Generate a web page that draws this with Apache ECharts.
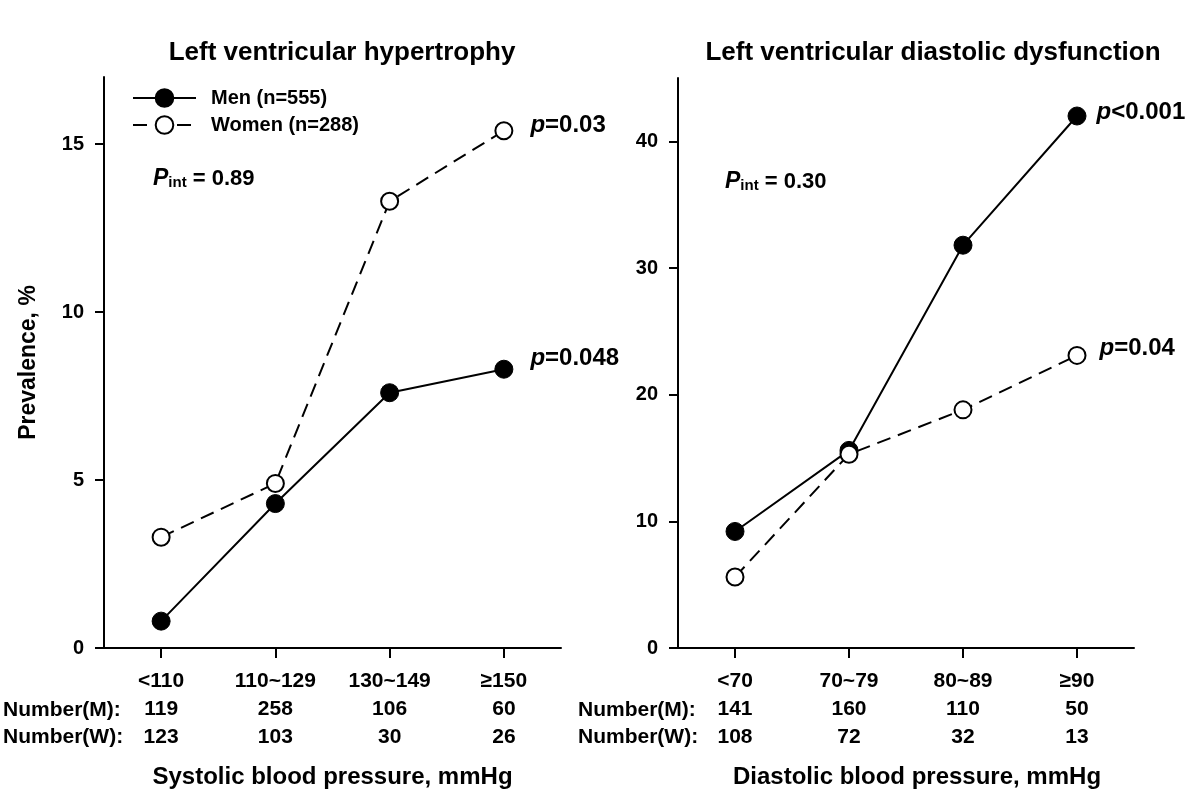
<!DOCTYPE html>
<html><head><meta charset="utf-8">
<script src="https://cdn.jsdelivr.net/npm/echarts@6/dist/echarts.min.js"></script>
<style>html,body{margin:0;padding:0;background:#fff}#c{width:1200px;height:796px}</style>
</head><body><div id="c"></div>
<script>
// ---------- data ----------
const sbpCategories = ['<110', '110~129', '130~149', '≥150'];
const dbpCategories = ['<70', '70~79', '80~89', '≥90'];
const lvhMen = [0.8, 4.3, 7.6, 8.3];
const lvhWomen = [3.3, 4.9, 13.3, 15.4];
const lvddMen = [9.2, 15.6, 31.8, 42.0];
const lvddWomen = [5.6, 15.3, 18.8, 23.1];
const sbpNumberMen = [119, 258, 106, 60];
const sbpNumberWomen = [123, 103, 30, 26];
const dbpNumberMen = [141, 160, 110, 50];
const dbpNumberWomen = [108, 72, 32, 13];
const lvhYTicks = [0, 5, 10, 15];
const lvddYTicks = [0, 10, 20, 30, 40];
const seriesNames = ['Men (n=555)', 'Women (n=288)'];
const lvhPValues = ['=0.048', '=0.03'];     // men, women
const lvddPValues = ['<0.001', '=0.04'];    // men, women
const pInteraction = ['0.89', '0.30'];

// ---------- styling ----------
const FONT = '"Liberation Sans", Arial, Helvetica, sans-serif';
const BLACK = '#000';

function pLabel(text, distance, dy) {
  return {
    show: true, position: 'right', distance: distance, offset: [0, dy],
    formatter: '{i|p}{n|' + text + '}',
    rich: {
      i: {fontFamily: FONT, fontSize: 24, fontWeight: 'bold', fontStyle: 'italic', color: BLACK},
      n: {fontFamily: FONT, fontSize: 24, fontWeight: 'bold', color: BLACK}
    }
  };
}
function withEndLabel(values, label) {
  return values.map((v, i) => i === values.length - 1 ? {value: v, label: label} : v);
}
const menStyle = {
  type: 'line', symbol: 'circle', symbolSize: 18, color: BLACK,
  lineStyle: {color: BLACK, width: 2, type: 'solid'},
  itemStyle: {color: BLACK, borderColor: BLACK, borderWidth: 1},
  emphasis: {disabled: true}, z: 2
};
const womenStyle = {
  type: 'line', symbol: 'circle', symbolSize: 17, color: BLACK,
  lineStyle: {color: BLACK, width: 2, type: [14, 8]},
  itemStyle: {color: '#fff', borderColor: BLACK, borderWidth: 2},
  emphasis: {disabled: true}, z: 3
};
function xAxis(gridIndex, cats, nm, nw, name, nameShift) {
  return {
    type: 'category', gridIndex: gridIndex, data: cats, boundaryGap: true,
    axisLine: {show: true, lineStyle: {color: BLACK, width: 2}},
    axisTick: {show: true, alignWithLabel: true, length: 10, lineStyle: {color: BLACK, width: 2}},
    axisLabel: {
      interval: 0, margin: 19, color: BLACK, fontFamily: FONT, fontSize: 21, fontWeight: 'bold', lineHeight: 28,
      formatter: (val, idx) => val + '\n' + nm[idx] + '\n' + nw[idx]
    },
    splitLine: {show: false},
    name: name, nameLocation: 'middle', nameGap: 117,
    nameTextStyle: {color: BLACK, fontFamily: FONT, fontSize: 24, fontWeight: 'bold', padding: [0, 0, 0, nameShift]}
  };
}
function yAxis(gridIndex, max, ticks, name) {
  return {
    type: 'value', gridIndex: gridIndex, min: 0, max: max,
    axisLine: {show: true, lineStyle: {color: BLACK, width: 2}},
    axisTick: {show: true, length: 9, customValues: ticks, lineStyle: {color: BLACK, width: 2}},
    axisLabel: {customValues: ticks, margin: 20, color: BLACK, fontFamily: FONT, fontSize: 20, fontWeight: 'bold'},
    splitLine: {show: false},
    name: name, nameLocation: 'middle', nameGap: 64,
    nameTextStyle: {color: BLACK, fontFamily: FONT, fontSize: 23, fontWeight: 'bold'}
  };
}
function textEl(x, y, text, size, align) {
  return {
    type: 'text', x: x, y: y, silent: true,
    style: {text: text, fill: BLACK, font: 'bold ' + size + 'px ' + FONT, textAlign: align || 'left', textVerticalAlign: 'middle'}
  };
}
function pintEl(x, y, val) {
  return {
    type: 'text', x: x, y: y, silent: true,
    style: {
      text: '{p|P}{s|int}{n| = ' + val + '}', textVerticalAlign: 'middle', textAlign: 'left',
      rich: {
        p: {fontFamily: FONT, fontSize: 23, fontWeight: 'bold', fontStyle: 'italic', fill: BLACK, verticalAlign: 'bottom', lineHeight: 26},
        s: {fontFamily: FONT, fontSize: 15, fontWeight: 'bold', fill: BLACK, verticalAlign: 'bottom', lineHeight: 24},
        n: {fontFamily: FONT, fontSize: 22, fontWeight: 'bold', fill: BLACK, verticalAlign: 'bottom', lineHeight: 25}
      }
    }
  };
}

const chart = echarts.init(document.getElementById('c'), null, {renderer: 'canvas'});
chart.setOption({
  animation: false,
  backgroundColor: '#fff',
  textStyle: {fontFamily: FONT},
  grid: [
    {left: 104, top: 77, width: 457, height: 571},
    {left: 678, top: 78, width: 456, height: 570}
  ],
  xAxis: [
    xAxis(0, sbpCategories, sbpNumberMen, sbpNumberWomen, 'Systolic blood pressure, mmHg', 0),
    xAxis(1, dbpCategories, dbpNumberMen, dbpNumberWomen, 'Diastolic blood pressure, mmHg', 22)
  ],
  yAxis: [
    yAxis(0, 17, lvhYTicks, 'Prevalence, %'),
    yAxis(1, 45, lvddYTicks, '')
  ],
  legend: {
    orient: 'vertical', left: 132, top: 88, padding: 0,
    itemWidth: 63, itemHeight: 22, itemGap: 7,
    data: seriesNames,
    selectedMode: false,
    textStyle: {color: BLACK, fontFamily: FONT, fontSize: 20, fontWeight: 'bold', padding: [0, 0, 0, 10]}
  },
  series: [
    Object.assign({}, menStyle, {name: seriesNames[0], xAxisIndex: 0, yAxisIndex: 0,
      data: withEndLabel(lvhMen, pLabel(lvhPValues[0], 17, -11))}),
    Object.assign({}, womenStyle, {name: seriesNames[1], xAxisIndex: 0, yAxisIndex: 0,
      data: withEndLabel(lvhWomen, pLabel(lvhPValues[1], 17, -5))}),
    Object.assign({}, menStyle, {name: seriesNames[0], xAxisIndex: 1, yAxisIndex: 1,
      data: withEndLabel(lvddMen, pLabel(lvddPValues[0], 10, -4))}),
    Object.assign({}, womenStyle, {name: seriesNames[1], xAxisIndex: 1, yAxisIndex: 1,
      data: withEndLabel(lvddWomen, pLabel(lvddPValues[1], 13, -7))})
  ],
  graphic: [
    textEl(342, 53, 'Left ventricular hypertrophy', 26, 'center'),
    textEl(933, 53, 'Left ventricular diastolic dysfunction', 26, 'center'),
    pintEl(153, 177, pInteraction[0]),
    pintEl(725, 180, pInteraction[1]),
    textEl(3, 710, 'Number(M):', 21),
    textEl(3, 737, 'Number(W):', 21),
    textEl(578, 710, 'Number(M):', 21),
    textEl(578, 737, 'Number(W):', 21)
  ]
});
</script>
</body></html>
